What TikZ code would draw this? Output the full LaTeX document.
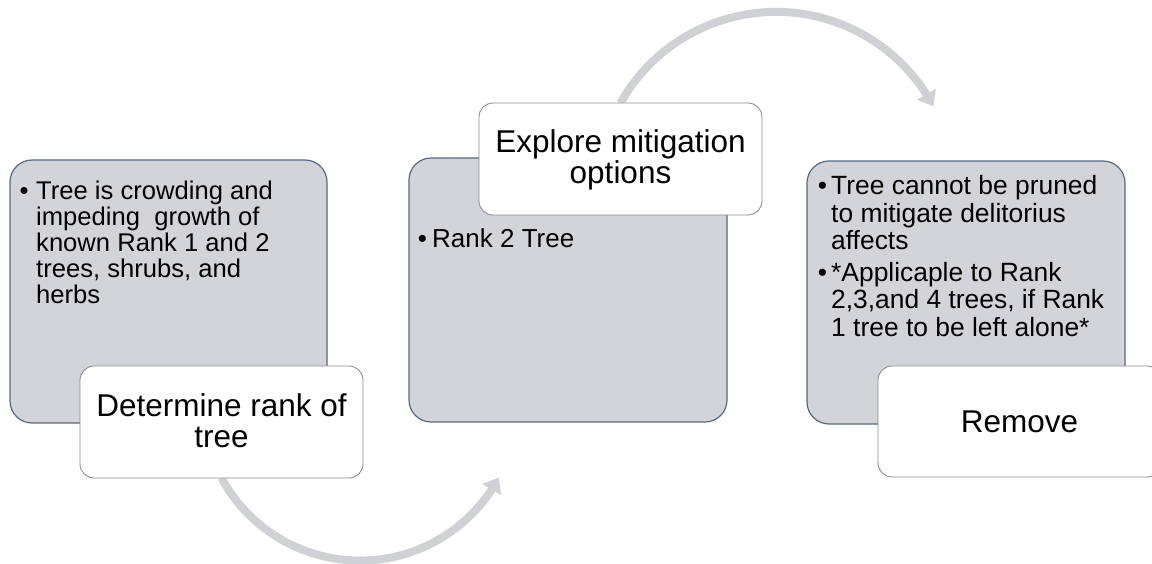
\documentclass[tikz,border=0pt]{standalone}
\usepackage{fontspec}
\setmainfont{Liberation Sans}
\usetikzlibrary{arrows.meta,bending}
\definecolor{panelfill}{HTML}{D3D4D9}
\definecolor{panelline}{HTML}{5A6781}
\definecolor{tagline}{HTML}{8C8C8C}
\definecolor{flowgray}{HTML}{D0D1D5}
\newcommand{\tagfont}{\fontsize{31.5}{30.5}\selectfont}
\begin{document}
\begin{tikzpicture}[x=1pt,y=1pt,
  panel/.style={draw=panelline, line width=1.2pt, fill=panelfill,
    rounded corners=22pt, inner sep=0pt, outer sep=0pt, anchor=south west},
  tagbox/.style={draw=tagline, line width=0.9pt, fill=white,
    rounded corners=14pt, inner sep=0pt, outer sep=0pt, anchor=south west,
    minimum width=283pt, minimum height=112pt},
  flowarc/.style={draw=flowgray, line width=8pt,
    -{Triangle[width=21pt,length=14pt]}},
  bulletmark/.style={anchor=base, inner sep=0pt},
  bodytext/.style={anchor=base west, inner sep=0pt},
  tagtext/.style={anchor=base, inner sep=0pt}]
\useasboundingbox (0,0) rectangle (1152,563);
\clip (0,0) rectangle (1152,563);

% label boxes placed first so the arcs can start from them
\path (80,85) node[tagbox, draw=none, fill=none] (w1) {};
\path (479,348) node[tagbox, draw=none, fill=none] (w2) {};

% curved flow arrows behind the boxes
\draw[flowarc] (w1.south) arc[start angle=208.4, end angle=331.8, radius=157.5];
\draw[flowarc] (w2.north) arc[start angle=150.7, end angle=28.1, radius=178.4];

% grey panels
\node[panel, minimum width=317pt, minimum height=263pt] (g1) at (10,140) {};
\node[panel, minimum width=318pt, minimum height=264pt] (g2) at (409,141) {};
\node[panel, minimum width=318pt, minimum height=263pt] (g3) at (807,139) {};

% panel texts
\node[bulletmark, font=\fontsize{25.6}{26}\selectfont] (b1) at (24,363.7) {\textbullet};
\node[bodytext] (t1) at (36,363.7) {\parbox[t]{290pt}{\raggedright\fontsize{25.6}{26}\selectfont
  Tree is crowding and\\ impeding\ \ growth of\\ known Rank 1 and 2\\ trees, shrubs, and\\ herbs}};

\node[bulletmark, font=\fontsize{26}{26.5}\selectfont] (b2) at (422.5,315) {\textbullet};
\node[bodytext, font=\fontsize{26}{26.5}\selectfont] (t2) at (432,315) {Rank 2 Tree};

\node[bulletmark, font=\fontsize{26.4}{27.3}\selectfont] (b3) at (822.5,368) {\textbullet};
\node[bodytext] (t3) at (831,368) {\parbox[t]{290pt}{\raggedright\fontsize{26.4}{27.3}\selectfont
  Tree cannot be pruned\\ to mitigate delitorius\\ affects}};
\node[bulletmark, font=\fontsize{26.4}{27.3}\selectfont] (b4) at (822.5,281.3) {\textbullet};
\node[bodytext] (t4) at (831,281.3) {\parbox[t]{290pt}{\raggedright\fontsize{26.4}{27.3}\selectfont
  *Applicaple to Rank\\ 2,3,and 4 trees, if Rank\\ 1 tree to be left alone*}};

% white label boxes
\node[tagbox] (v1) at (80,85) {};
\node[tagbox] (v2) at (479,348) {};
\node[tagbox, minimum height=111pt] (v3) at (878,86) {};

\node[tagtext] (l1) at (221.5,146.3) {\parbox[t]{283pt}{\centering\tagfont Determine rank of\\ tree}};
\node[tagtext] (l2) at (620.5,410) {\parbox[t]{283pt}{\centering\tagfont Explore mitigation\\ options}};
\node[tagtext, font=\tagfont] (l3) at (1019.5,130.7) {Remove};
\end{tikzpicture}
\end{document}
